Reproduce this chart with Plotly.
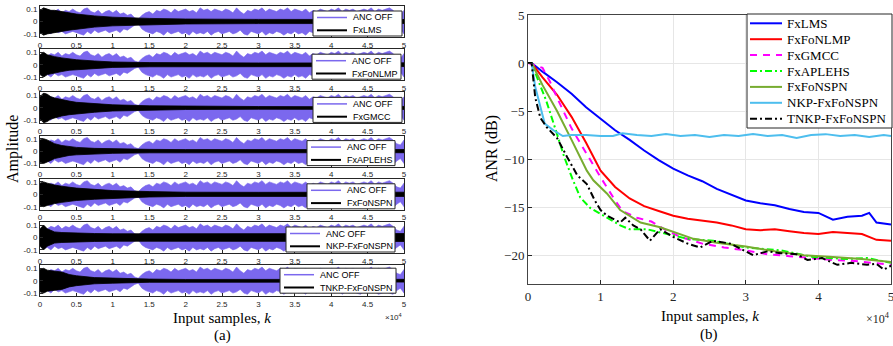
import plotly.graph_objects as go

W, H = 893, 346
SANS = "Liberation Sans, Arial, sans-serif"
SERIF = "Liberation Serif, Times New Roman, serif"

# ---------------- (a) time-domain signals (k in units of 1e4) ----------------
K_ENV = [0.00, 0.05, 0.10, 0.15, 0.20, 0.25, 0.30, 0.35, 0.40, 0.45,
         0.50, 0.55, 0.60, 0.65, 0.70, 0.75, 0.80, 0.85, 0.90, 0.95,
         1.00, 1.05, 1.10, 1.15, 1.20, 1.25, 1.30, 1.35, 1.40, 1.45,
         1.50, 1.55, 1.60, 1.65, 1.70, 1.75, 1.80, 1.85, 1.90, 1.95,
         2.00, 2.05, 2.10, 2.15, 2.20, 2.25, 2.30, 2.35, 2.40, 2.45,
         2.50, 2.55, 2.60, 2.65, 2.70, 2.75, 2.80, 2.85, 2.90, 2.95,
         3.00, 3.05, 3.10, 3.15, 3.20, 3.25, 3.30, 3.35, 3.40, 3.45,
         3.50, 3.55, 3.60, 3.65, 3.70, 3.75, 3.80, 3.85, 3.90, 3.95,
         4.00, 4.05, 4.10, 4.15, 4.20, 4.25, 4.30, 4.35, 4.40, 4.45,
         4.50, 4.55, 4.60, 4.65, 4.70, 4.75, 4.80, 4.85, 4.90, 4.95,
         5.00]
ANC_OFF_UPPER = [0.05, 0.08, 0.07, 0.09, 0.08, 0.10, 0.07, 0.09, 0.08, 0.10,
                 0.08, 0.07, 0.10, 0.11, 0.08, 0.07, 0.09, 0.06, 0.08, 0.09,
                 0.07, 0.09, 0.06, 0.07, 0.05, 0.06, 0.03, 0.02, 0.05, 0.07,
                 0.08, 0.06, 0.09, 0.08, 0.10, 0.09, 0.07, 0.10, 0.08, 0.09,
                 0.10, 0.08, 0.09, 0.07, 0.11, 0.09, 0.10, 0.08, 0.10, 0.09,
                 0.08, 0.10, 0.09, 0.07, 0.11, 0.08, 0.06, 0.09, 0.08, 0.10,
                 0.09, 0.11, 0.08, 0.10, 0.09, 0.08, 0.10, 0.09, 0.11, 0.08,
                 0.10, 0.09, 0.08, 0.10, 0.07, 0.09, 0.08, 0.10, 0.09, 0.08,
                 0.10, 0.09, 0.11, 0.08, 0.10, 0.09, 0.10, 0.08, 0.09, 0.10,
                 0.09, 0.11, 0.08, 0.10, 0.09, 0.10, 0.11, 0.09, 0.06, 0.05,
                 0.09]
ANC_OFF_LOWER = [-0.06, -0.09, -0.08, -0.10, -0.07, -0.09, -0.08, -0.10, -0.09, -0.08,
                 -0.09, -0.10, -0.11, -0.08, -0.10, -0.07, -0.09, -0.08, -0.07, -0.09,
                 -0.08, -0.07, -0.09, -0.06, -0.07, -0.05, -0.03, -0.02, -0.06, -0.08,
                 -0.09, -0.10, -0.08, -0.09, -0.11, -0.08, -0.10, -0.09, -0.08, -0.10,
                 -0.09, -0.11, -0.08, -0.10, -0.09, -0.10, -0.08, -0.11, -0.09, -0.08,
                 -0.10, -0.09, -0.08, -0.10, -0.09, -0.07, -0.10, -0.11, -0.08, -0.09,
                 -0.10, -0.08, -0.11, -0.09, -0.10, -0.08, -0.09, -0.11, -0.09, -0.10,
                 -0.08, -0.10, -0.09, -0.11, -0.08, -0.09, -0.10, -0.08, -0.10, -0.09,
                 -0.09, -0.10, -0.08, -0.11, -0.09, -0.10, -0.08, -0.10, -0.11, -0.09,
                 -0.10, -0.08, -0.09, -0.11, -0.10, -0.09, -0.10, -0.11, -0.08, -0.06,
                 -0.10]

# residual-error envelopes (amplitude) for each algorithm
K_RES = [0, 0.05, 0.1, 0.15, 0.2, 0.3, 0.4, 0.5, 0.75, 1.0, 1.5, 2.0, 3.0, 4.0, 5.0]
RES_FXLMS    = [0.09, 0.11, 0.10, 0.09, 0.09, 0.08, 0.07, 0.06, 0.045, 0.035, 0.025, 0.02, 0.017, 0.015, 0.016]
RES_FXFONLMP = [0.08, 0.10, 0.08, 0.07, 0.065, 0.055, 0.045, 0.04, 0.03, 0.022, 0.017, 0.015, 0.014, 0.014, 0.015]
RES_FXGMCC   = [0.09, 0.12, 0.11, 0.09, 0.08, 0.065, 0.055, 0.045, 0.035, 0.025, 0.017, 0.013, 0.011, 0.01, 0.012]
RES_FXAPLEHS = [0.09, 0.10, 0.09, 0.075, 0.06, 0.045, 0.035, 0.03, 0.022, 0.018, 0.014, 0.012, 0.012, 0.012, 0.013]
RES_FXFONSPN = [0.09, 0.10, 0.09, 0.08, 0.075, 0.065, 0.055, 0.05, 0.04, 0.03, 0.022, 0.017, 0.016, 0.016, 0.017]
RES_NKP      = [0.07, 0.10, 0.07, 0.055, 0.045, 0.04, 0.037, 0.035, 0.032, 0.03, 0.03, 0.03, 0.03, 0.03, 0.032]
RES_TNKP     = [0.09, 0.10, 0.085, 0.08, 0.075, 0.07, 0.05, 0.04, 0.025, 0.02, 0.013, 0.01, 0.01, 0.01, 0.011]

ALGOS = ["FxLMS", "FxFoNLMP", "FxGMCC", "FxAPLEHS", "FxFoNSPN", "NKP-FxFoNSPN", "TNKP-FxFoNSPN"]
RESIDUALS = [RES_FXLMS, RES_FXFONLMP, RES_FXGMCC, RES_FXAPLEHS, RES_FXFONSPN, RES_NKP, RES_TNKP]

TIME_TICKS = [0, 0.5, 1, 1.5, 2, 2.5, 3, 3.5, 4, 4.5, 5]
TIME_TICKTEXT = ["0", "0.5", "1", "1.5", "2", "2.5", "3", "3.5", "4", "4.5", "5"]
AMP_TICKS = [-0.1, 0, 0.1]
AMP_TICKTEXT = ["-0.1", "0", "0.1"]

# ---------------- (b) ANR curves (k in units of 1e4, ANR in dB) ----------------
K_FXLMS = [0, 0.05, 0.2, 0.4, 0.6, 0.8, 1.0, 1.2, 1.4, 1.6, 1.8, 2.0, 2.2, 2.4, 2.6, 2.8,
           3.0, 3.2, 3.4, 3.6, 3.8, 4.0, 4.2, 4.4, 4.6, 4.7, 4.8, 5.0]
ANR_FXLMS = [0, 0, -0.9, -2.0, -3.2, -4.6, -5.8, -7.0, -8.0, -9.1, -10.1, -11.0, -11.7, -12.3,
             -13.1, -13.7, -14.3, -14.6, -14.8, -15.2, -15.5, -15.6, -16.3, -16.0, -15.9,
             -15.6, -16.6, -16.8]
K_FXFONLMP = [0, 0.05, 0.2, 0.4, 0.6, 0.8, 1.0, 1.2, 1.4, 1.6, 1.8, 2.0, 2.2, 2.4, 2.6, 2.8,
              3.0, 3.2, 3.4, 3.6, 3.8, 4.0, 4.2, 4.4, 4.6, 4.8, 5.0]
ANR_FXFONLMP = [0, 0, -1.5, -3.3, -5.6, -8.3, -11.2, -12.9, -14.1, -14.9, -15.4, -15.9, -16.2,
                -16.4, -16.6, -16.9, -17.3, -17.4, -17.3, -17.5, -17.7, -17.8, -17.6, -17.7,
                -17.8, -18.4, -18.5]
K_FXGMCC = [0, 0.2, 0.3, 0.4, 0.6, 0.8, 1.0, 1.2, 1.3, 1.5, 1.7, 1.9, 2.1, 2.4, 2.7, 3.0,
            3.3, 3.6, 3.9, 4.2, 4.5, 4.8, 5.0]
ANR_FXGMCC = [0, -0.5, -1.9, -3.6, -6.8, -9.4, -11.9, -14.3, -15.4, -16.1, -16.5, -17.4, -18.1,
              -18.8, -19.2, -19.5, -19.9, -20.1, -20.3, -20.5, -20.6, -20.8, -21.0]
K_FXAPLEHS = [0, 0.05, 0.15, 0.25, 0.4, 0.5, 0.62, 0.72, 0.86, 1.0, 1.15, 1.27, 1.4, 1.64,
              1.86, 2.2, 2.55, 3.0, 3.48, 3.93, 4.4, 4.67, 5.0]
ANR_FXAPLEHS = [0, 0, -2.0, -3.9, -7.4, -9.8, -12.2, -14.0, -15.1, -15.7, -16.3, -16.9, -17.3,
                -17.3, -17.7, -18.3, -18.5, -19.2, -19.5, -20.2, -20.4, -20.3, -20.8]
K_FXFONSPN = [0, 0.05, 0.2, 0.4, 0.6, 0.81, 0.9, 1.09, 1.27, 1.55, 1.82, 2.1, 2.28, 2.6, 3.0,
              3.4, 3.8, 4.2, 4.6, 5.0]
ANR_FXFONSPN = [0, 0, -2.3, -5.0, -8.0, -11.2, -12.2, -13.6, -15.3, -16.6, -17.1, -17.8, -18.3,
                -18.7, -19.1, -19.6, -20.0, -20.2, -20.4, -20.7]
K_NKP = [0, 0.05, 0.1, 0.17, 0.23, 0.35, 0.48, 0.6, 0.8, 1.0, 1.17, 1.3, 1.5, 1.7, 1.9, 2.1,
         2.3, 2.5, 2.7, 2.9, 3.1, 3.3, 3.5, 3.7, 3.9, 4.1, 4.3, 4.5, 4.7, 4.9, 5.0]
ANR_NKP = [0, 0, -2.5, -4.6, -6.3, -7.0, -7.6, -7.5, -7.5, -7.6, -7.6, -7.3, -7.5, -7.6, -7.4,
           -7.6, -7.5, -7.7, -7.5, -7.6, -7.4, -7.6, -7.5, -7.8, -7.5, -7.4, -7.6, -7.5, -7.7,
           -7.5, -7.6]
K_TNKP = [0, 0.05, 0.1, 0.17, 0.26, 0.4, 0.54, 0.68, 0.81, 0.92, 1.0, 1.09, 1.27, 1.34, 1.45,
          1.55, 1.68, 1.82, 2.0, 2.2, 2.37, 2.55, 2.79, 3.1, 3.3, 3.48, 3.7, 3.85, 4.05, 4.26,
          4.45, 4.67, 4.8, 4.9, 5.0]
ANR_TNKP = [0, 0, -3.6, -5.7, -6.7, -7.8, -9.8, -11.7, -12.6, -14.3, -15.3, -15.9, -16.6, -16.1,
            -16.9, -17.3, -18.5, -17.3, -18.1, -18.8, -19.2, -18.5, -18.8, -20.0, -19.6, -19.8,
            -19.9, -20.5, -20.3, -21.0, -20.8, -21.0, -20.9, -21.5, -21.1]

ANR_SERIES = [
    ("FxLMS", K_FXLMS, ANR_FXLMS, "#0000FF", "solid"),
    ("FxFoNLMP", K_FXFONLMP, ANR_FXFONLMP, "#FF0000", "solid"),
    ("FxGMCC", K_FXGMCC, ANR_FXGMCC, "#FF00FF", "7px,6px"),
    ("FxAPLEHS", K_FXAPLEHS, ANR_FXAPLEHS, "#00FF00", "7px,3px,2px,3px"),
    ("FxFoNSPN", K_FXFONSPN, ANR_FXFONSPN, "#77AC30", "solid"),
    ("NKP-FxFoNSPN", K_NKP, ANR_NKP, "#4DBEEE", "solid"),
    ("TNKP-FxFoNSPN", K_TNKP, ANR_TNKP, "#000000", "7px,3px,2px,3px"),
]
ANR_XTICKS = [0, 1, 2, 3, 4, 5]
ANR_YTICKS = [-20, -15, -10, -5, 0, 5]

PURPLE = "#7B68EE"
AXC = "#262626"

def px(x):
    return x / W

def py(y):
    return 1 - y / H

fig = go.Figure()
shapes = []
annotations = []

# ---------------- left panel ----------------
X0, X1 = 40, 404
LEG_BOX = [(313, 402), (312, 401), (313, 402), (307, 395), (307, 395), (286, 395), (280, 396)]
for i in range(7):
    top = 6 + 43.2 * i
    bot = top + 31
    xa = "x" if i == 0 else f"x{i+1}"
    ya = "y" if i == 0 else f"y{i+1}"
    fig.add_trace(go.Scatter(
        x=K_ENV + K_ENV[::-1], y=ANC_OFF_UPPER + ANC_OFF_LOWER[::-1],
        fill="toself", fillcolor=PURPLE, line=dict(color=PURPLE, width=0.6),
        mode="lines", xaxis=xa, yaxis=ya, showlegend=False, hoverinfo="skip"))
    env = RESIDUALS[i]
    fig.add_trace(go.Scatter(
        x=K_RES + K_RES[::-1], y=env + [-v for v in env[::-1]],
        fill="toself", fillcolor="#000000", line=dict(color="#000000", width=0.8),
        mode="lines", xaxis=xa, yaxis=ya, showlegend=False, hoverinfo="skip"))
    axx = dict(domain=[px(X0), px(X1)], anchor=ya, range=[0, 5], tickvals=TIME_TICKS,
               ticktext=TIME_TICKTEXT, ticks="inside", ticklen=3, tickcolor=AXC,
               showline=True, mirror=True, linecolor=AXC, linewidth=1, showgrid=False,
               zeroline=False, automargin=False, ticklabeloverflow="allow",
               tickfont=dict(family=SANS, size=8, color=AXC))
    axy = dict(domain=[py(bot), py(top)], anchor=xa, range=[-0.125, 0.125],
               tickvals=AMP_TICKS, ticktext=AMP_TICKTEXT, ticks="inside", ticklen=3,
               tickcolor=AXC, showline=True, mirror=True, linecolor=AXC, linewidth=1,
               showgrid=False, zeroline=False, automargin=False,
               tickfont=dict(family=SANS, size=8, color=AXC))
    fig.layout["xaxis" if i == 0 else f"xaxis{i+1}"] = axx
    fig.layout["yaxis" if i == 0 else f"yaxis{i+1}"] = axy

    # legend for this subplot
    bx0, bx1 = LEG_BOX[i]
    lt = top + 5 if i < 6 else top + 3
    shapes.append(dict(type="rect", xref="paper", yref="paper", x0=px(bx0), x1=px(bx1),
                       y0=py(lt + 25), y1=py(lt), fillcolor="white",
                       line=dict(color=AXC, width=1), layer="above"))
    for j, (lab, col, lw) in enumerate([("ANC OFF", PURPLE, 1.5), (ALGOS[i], "#000000", 2)]):
        yy = lt + 6.5 + 12.8 * j
        shapes.append(dict(type="line", xref="paper", yref="paper", x0=px(bx0 + 4),
                           x1=px(bx0 + 34), y0=py(yy), y1=py(yy),
                           line=dict(color=col, width=lw), layer="above"))
        annotations.append(dict(text=lab, xref="paper", yref="paper", x=px(bx0 + 38),
                                y=py(yy), xanchor="left", yanchor="middle", showarrow=False,
                                font=dict(family=SANS, size=9, color="#000000")))

# ---------------- right panel ----------------
for name, kx, vals, col, dash in ANR_SERIES:
    fig.add_trace(go.Scatter(x=kx, y=vals, mode="lines", name=name,
                             line=dict(color=col, width=2, dash=dash),
                             xaxis="x8", yaxis="y8", showlegend=False))
fig.layout["xaxis8"] = dict(domain=[px(528), px(891)], anchor="y8", range=[0, 5],
                            tickvals=ANR_XTICKS, ticks="inside", ticklen=4, tickcolor=AXC,
                            showline=True, mirror=True, linecolor="#444", linewidth=1,
                            showgrid=True, gridcolor="#E6E6E6", gridwidth=1, zeroline=False,
                            automargin=False, ticklabeloverflow="allow",
                            tickfont=dict(family=SERIF, size=13, color=AXC))
fig.layout["yaxis8"] = dict(domain=[py(284), py(15)], anchor="x8", range=[-23, 5],
                            tickvals=ANR_YTICKS, ticks="inside", ticklen=4, tickcolor=AXC,
                            showline=True, mirror=True, linecolor="#444", linewidth=1,
                            showgrid=True, gridcolor="#E6E6E6", gridwidth=1, zeroline=False,
                            automargin=False, tickfont=dict(family=SERIF, size=13, color=AXC))

# right legend
shapes.append(dict(type="rect", xref="paper", yref="paper", x0=px(747), x1=px(892),
                   y0=py(128), y1=py(14), fillcolor="white",
                   line=dict(color=AXC, width=1), layer="above"))
for j, (name, kx, vals, col, dash) in enumerate(ANR_SERIES):
    yy = 23.3 + 15.9 * j
    shapes.append(dict(type="line", xref="paper", yref="paper", x0=px(750), x1=px(782),
                       y0=py(yy), y1=py(yy), line=dict(color=col, width=2, dash=dash),
                       layer="above"))
    annotations.append(dict(text=name, xref="paper", yref="paper", x=px(785), y=py(yy),
                            xanchor="left", yanchor="middle", showarrow=False,
                            font=dict(family=SERIF, size=13, color="#000000")))

# titles and labels
def ann(text, x, y, size, family=SERIF, angle=0, color="#000000", xanchor="center"):
    annotations.append(dict(text=text, xref="paper", yref="paper", x=px(x), y=py(y),
                            xanchor=xanchor, yanchor="middle", showarrow=False,
                            textangle=angle, font=dict(family=family, size=size, color=color)))

ann("Amplitude", 13, 149, 16, angle=-90)
ann("Input samples, <i>k</i>", 222, 318, 15)
ann("(a)", 222, 335, 15)
ann("×10<sup>4</sup>", 393, 317, 8, family=SANS, color=AXC)
ann("ANR (dB)", 492, 149, 16, angle=-90)
ann("Input samples, <i>k</i>", 710, 316, 15)
ann("(b)", 709, 334, 15)
ann("×10<sup>4</sup>", 878, 318, 12, color=AXC)

fig.update_layout(width=W, height=H, margin=dict(l=0, r=0, t=0, b=0),
                  paper_bgcolor="white", plot_bgcolor="white", template="none",
                  shapes=shapes, annotations=annotations, showlegend=False)
fig.write_html("out.html")
